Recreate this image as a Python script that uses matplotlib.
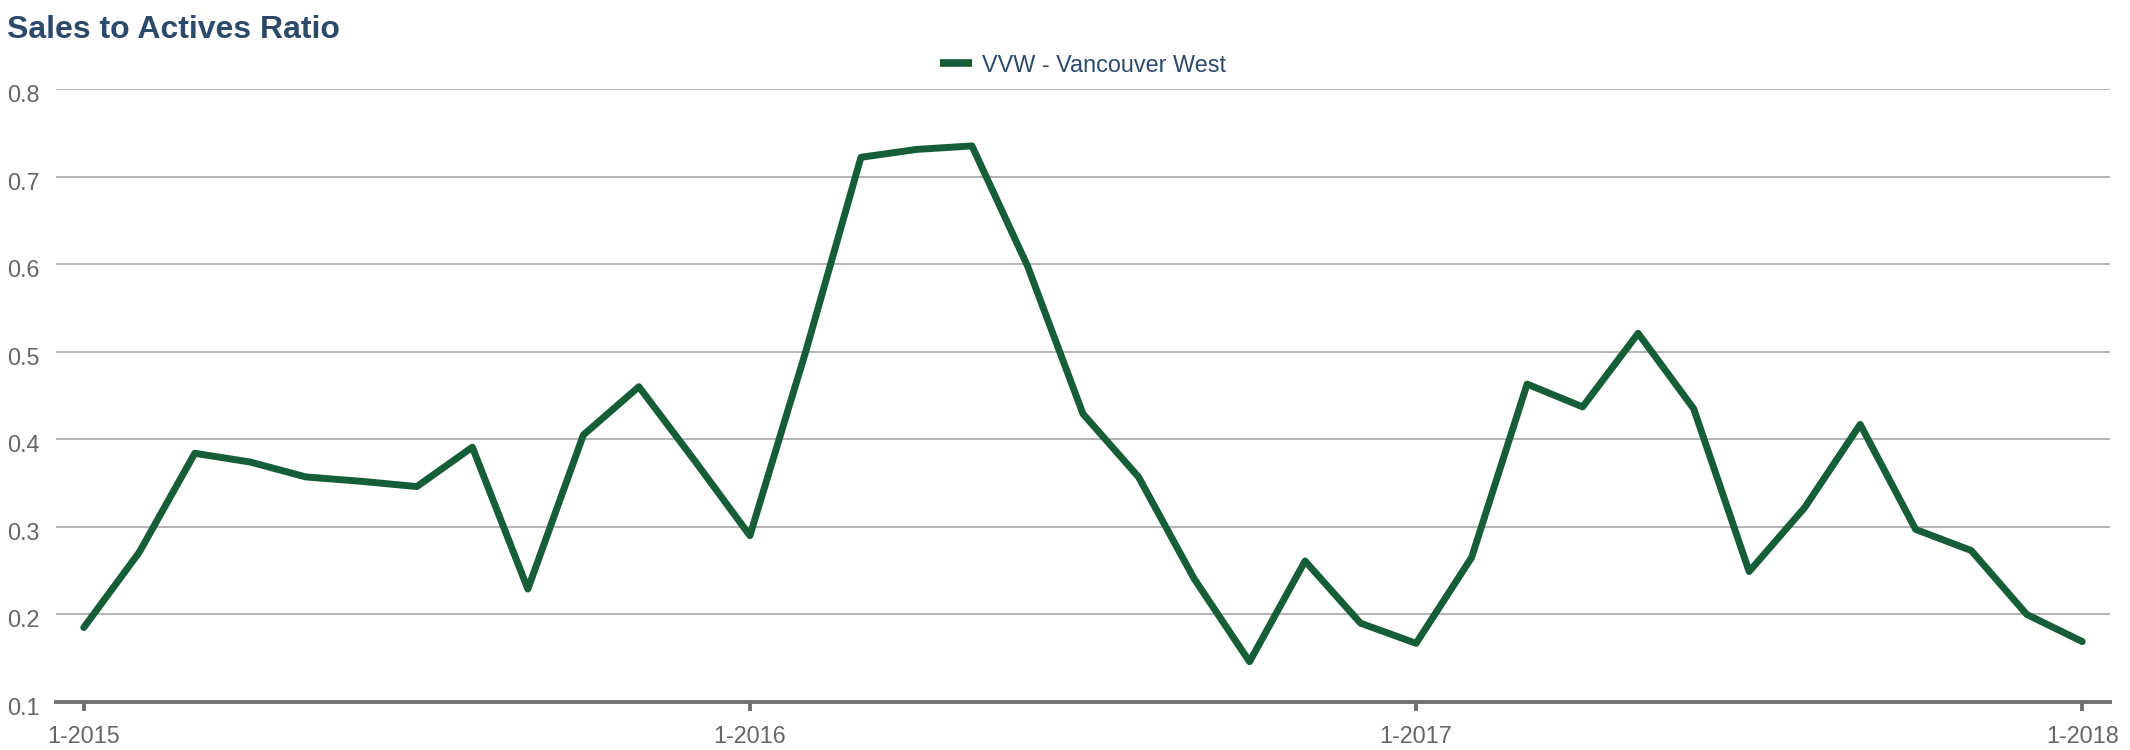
import numpy as np
import matplotlib
matplotlib.use('Agg')
import matplotlib.pyplot as plt
import matplotlib.transforms as mtransforms

plt.rcParams['font.family'] = ['Liberation Sans', 'DejaVu Sans']

# 数据：2015年1月到2018年1月，每月一个点
months = [f"{m}-{y}" for y in (2015, 2016, 2017) for m in range(1, 13)] + ["1-2018"]
ratio = [0.185, 0.271, 0.384, 0.374, 0.357, 0.352, 0.346, 0.391, 0.229, 0.405,
         0.460, 0.376, 0.290, 0.499, 0.722, 0.731, 0.735, 0.598, 0.429, 0.357,
         0.241, 0.146, 0.261, 0.190, 0.167, 0.265, 0.463, 0.437, 0.521, 0.435,
         0.249, 0.322, 0.417, 0.297, 0.273, 0.200, 0.169]
series_name = "VVW - Vancouver West"
tick_every = 12
y_ticks = [0.1, 0.2, 0.3, 0.4, 0.5, 0.6, 0.7, 0.8]

green = '#165e37'
navy = '#2b4a6a'
grey_text = '#666666'

fig = plt.figure(figsize=(21.3, 7.5), dpi=100)
ax = fig.add_axes([56 / 2130, 1 - 702 / 750, (2110 - 56) / 2130, (702 - 89) / 750])

x = np.arange(len(ratio))
ax.plot(x, ratio, color=green, linewidth=5, solid_capstyle='round',
        solid_joinstyle='round', label=series_name, zorder=3)

ax.set_xlim(-0.5, len(ratio) - 0.5)
ax.set_ylim(0.1, 0.8)

# x 轴刻度
ax.set_xticks(x[::tick_every])
ax.set_xticklabels(months[::tick_every])
ax.tick_params(axis='x', direction='out', length=6.5, width=2.8, color='#707070',
               labelsize=16.8, labelcolor=grey_text, pad=10)

# y 轴刻度和网格
ax.set_yticks(y_ticks)
ax.set_yticklabels([f"{v:.1f}" for v in y_ticks])
ax.tick_params(axis='y', length=0, labelsize=16.8, labelcolor=grey_text, pad=12)
offset = mtransforms.ScaledTranslation(0, -4 / 100, fig.dpi_scale_trans)
for lab in ax.get_yticklabels():
    lab.set_transform(lab.get_transform() + offset)
ax.yaxis.grid(True, color='#b3b3b3', linewidth=1.4)
ax.set_axisbelow(True)

for s in ('top', 'right', 'left'):
    ax.spines[s].set_visible(False)
ax.spines['bottom'].set_color('#707070')
ax.spines['bottom'].set_linewidth(2.8)
ax.spines['bottom'].set_zorder(4)

# 标题
fig.text(7 / 2130, 1 - 38 / 750, "Sales to Actives Ratio", fontsize=23, fontweight='bold',
         color=navy, ha='left', va='baseline')

# 图例
leg = ax.legend(loc='center', bbox_to_anchor=(1083 / 2130, 1 - 65 / 750),
                bbox_transform=fig.transFigure, frameon=False, fontsize=16.8,
                handlelength=1.37, handletextpad=0.45)
for t in leg.get_texts():
    t.set_color(navy)
for h in leg.legend_handles:
    h.set_linewidth(5.5)
    h.set_solid_capstyle('butt')

fig.savefig('out.png', dpi=100)
